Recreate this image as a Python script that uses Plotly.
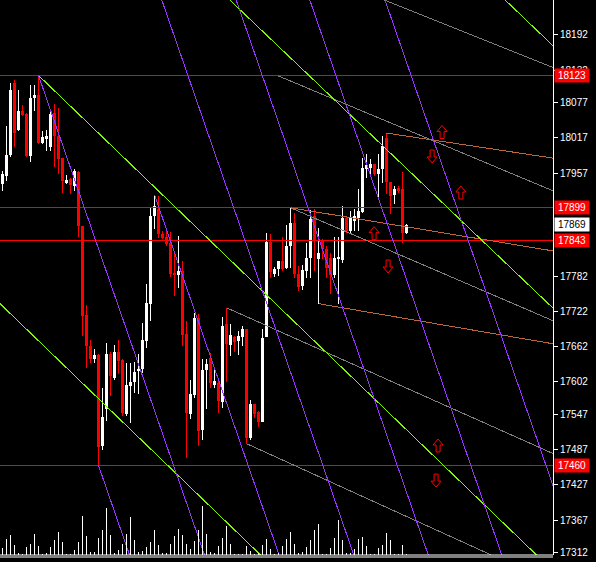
import plotly.graph_objects as go

# ---------------- data ----------------
idx = list(range(102))
opens = [17938,17952,17988,18110,18031,18063,18058,17986,18085,18090,
         18008,18015,18002,18059,18020,17983,17940,17947,17935,17959,
         17867,17716,17663,17641,17648,17493,17556,17650,17609,17653,
         17640,17548,17595,17602,17621,17624,17672,17735,17884,17896,
         17854,17849,17838,17787,17784,17791,17684,17548,17580,17711,
         17521,17623,17643,17597,17600,17568,17701,17665,17679,17672,
         17679,17692,17507,17565,17551,17534,17679,17840,17786,17794,
         17808,17796,17833,17872,17786,17765,17791,17813,17884,17811,
         17844,17828,17813,17784,17811,17810,17881,17859,17876,17881,
         17891,17964,17966,17973,17956,17964,18017,17942,17920,17932,
         17930,17855]
highs = [17961,18037,18110,18116,18099,18073,18059,18107,18107,18123,
         18029,18031,18061,18075,18068,17983,17954,17949,17964,17961,
         17867,17733,17674,17658,17650,17592,17668,17653,17665,17674,
         17641,17634,17634,17636,17650,17702,17769,17900,17920,17918,
         17859,17859,17857,17820,17850,17808,17706,17606,17719,17718,
         17641,17641,17651,17623,17609,17713,17728,17701,17680,17689,
         17697,17692,17572,17565,17553,17692,17855,17854,17798,17808,
         17849,17869,17898,17889,17799,17801,17838,17895,17896,17864,
         17845,17833,17821,17849,17849,17901,17884,17893,17896,17930,
         17983,17990,17981,17973,17990,18020,18025,17942,17935,17935,
         17959,17871]
lows = [17927,17944,17985,18002,18029,18054,17985,17976,18063,18007,
        18007,17995,17995,17968,17956,17923,17939,17922,17927,17849,
        17680,17626,17634,17634,17460,17487,17536,17578,17606,17616,
        17544,17544,17532,17583,17582,17617,17660,17706,17862,17847,
        17845,17833,17781,17748,17762,17663,17473,17539,17575,17493,
        17504,17556,17592,17592,17549,17558,17602,17646,17653,17648,
        17663,17497,17504,17541,17526,17534,17679,17779,17781,17782,
        17791,17794,17796,17779,17757,17759,17779,17779,17791,17735,
        17811,17779,17752,17779,17735,17804,17855,17855,17859,17859,
        17889,17949,17956,17952,17915,17940,17922,17888,17905,17923,
        17838,17854]
closes = [17955,17988,18099,18025,18063,18056,17986,18085,18090,18008,
          18019,18020,18058,18020,17981,17944,17946,17937,17961,17867,
          17714,17663,17641,17648,17492,17543,17650,17612,17653,17638,
          17549,17597,17602,17619,17624,17674,17736,17884,17901,17854,
          17847,17837,17786,17784,17791,17682,17549,17582,17711,17519,
          17623,17633,17600,17604,17570,17697,17667,17682,17670,17680,
          17692,17507,17565,17548,17534,17677,17840,17789,17794,17808,
          17794,17833,17872,17786,17764,17793,17813,17879,17844,17821,
          17828,17796,17784,17813,17813,17881,17859,17881,17884,17893,
          17966,17971,17973,17956,17964,18003,17942,17918,17930,17927,
          17855,17869]
volumes = [6.7,16,20,10,2.3,1,7.7,11,21,9,1,1.7,7.7,15,22.7,12.7,1,1,5,13,
           39,19,3,3,16.7,25,47,20,2,5,11,21,38,15,3.3,4,8,13,25,10,
           2,2,11,19,26,20,11,6,14,25,49,21,3,2,9,17,29,11,1,1,
           1,9,4,1,2,10,16,6,1,2,9,16,23,11,2,3,8,15,25,31,
           1,1,7,17,35,15,2,2,6,16,18,9,1,1,7,10,22,15,1,1,
           10,0.5]

levels = [18123, 17899, 17843, 17460]
current_price = 17869
tick_vals = [18252,18192,18132,18077,18017,17957,17782,
             17722,17662,17602,17547,17487,17427,17367,17312]

# drawn trend lines: x0, price0, x1, price1
purple_x0 = [9, 38, 24, 38, 57, 75, 94]
purple_p0 = [18123, 17920, 17460, 18287, 18279, 18287, 18283]
purple_x1 = [51, 70, 32, 90, 108, 127, 140]
purple_p1 = [17298, 17291, 17303, 17265, 17277, 17265, 17379]

green_x0 = [9, -2, 55, 124]
green_p0 = [18123, 17744, 18263, 18262]
green_x1 = [135, 66, 140, 140]
green_p1 = [17298, 17298, 17712, 18158]

grey_x0 = [69, 94, 72, 56, 61]
grey_p0 = [18122, 18255, 17898, 17728, 17497]
grey_x1 = [140, 140, 140, 140, 125]
grey_p1 = [17920, 18130, 17699, 17473, 17299]

brown_x0 = [96, 72, 79]
brown_p0 = [18025, 17898, 17735]
brown_x1 = [140, 140, 140]
brown_p1 = [17980, 17822, 17664]

arrow_x = [109.9, 107.4, 114.6, 92.9, 96.4, 108.9, 108.4]
arrow_p = [18026, 17986, 17923, 17854, 17799, 17493, 17435]
arrow_dir = ["up", "down", "up", "up", "down", "up", "down"]

# ---------------- figure ----------------
WHITE = "#FFFFFF"
RED = "#FF0000"
PURPLE = "#9933FF"
GREEN = "#7CFC00"
GREY = "#808080"
BROWN = "#C0643C"
FONT = "Liberation Sans Narrow, Liberation Sans, Arial"

colors = [WHITE if c >= o else RED for o, c in zip(opens, closes)]
body_base = [min(o, c) for o, c in zip(opens, closes)]
body_h = [max(abs(c - o), 1.7) for o, c in zip(opens, closes)]
wick_h = [h - l for h, l in zip(highs, lows)]

fig = go.Figure()

fig.add_trace(go.Bar(x=idx, y=volumes, width=0.25, yaxis="y2",
                     marker=dict(color=WHITE, line=dict(width=0)),
                     hoverinfo="skip"))
fig.add_trace(go.Bar(x=idx, y=wick_h, base=lows, width=0.25,
                     marker=dict(color=colors, line=dict(width=0)),
                     hoverinfo="skip"))
fig.add_trace(go.Bar(x=idx, y=body_h, base=body_base, width=0.75,
                     marker=dict(color=colors, line=dict(width=0)),
                     hoverinfo="skip"))

for lv in levels:
    fig.add_trace(go.Scatter(x=[-5, 145], y=[lv, lv], mode="lines",
                             line=dict(color=RED, width=1), hoverinfo="skip"))

def add_lines(x0s, p0s, x1s, p1s, color):
    for a, b, c, d in zip(x0s, p0s, x1s, p1s):
        fig.add_trace(go.Scatter(x=[a, c], y=[b, d], mode="lines",
                                 line=dict(color=color, width=1),
                                 hoverinfo="skip"))

add_lines(grey_x0, grey_p0, grey_x1, grey_p1, GREY)
add_lines(brown_x0, brown_p0, brown_x1, brown_p1, BROWN)
add_lines(green_x0, green_p0, green_x1, green_p1, GREEN)
add_lines(purple_x0, purple_p0, purple_x1, purple_p1, PURPLE)

up_path = "M0,7 L5,1 L2,1 L2,-6 L-2,-6 L-2,1 L-5,1 Z"
down_path = "M0,-7 L5,-1 L2,-1 L2,6 L-2,6 L-2,-1 L-5,-1 Z"
shapes = []
for ax, ap, ad in zip(arrow_x, arrow_p, arrow_dir):
    shapes.append(dict(type="path", xref="x", yref="y",
                       xsizemode="pixel", ysizemode="pixel",
                       xanchor=ax, yanchor=ap,
                       path=up_path if ad == "up" else down_path,
                       line=dict(color=RED, width=1), fillcolor="#000000",
                       layer="above"))
# bottom separator lines
for yy in [0, -2.0 / 555]:
    shapes.append(dict(type="line", xref="paper", yref="paper",
                       x0=0, x1=1, y0=yy, y1=yy,
                       line=dict(color=WHITE, width=1)))

annotations = []
label_x = 571.7 / 553
for lv in levels:
    annotations.append(dict(xref="paper", yref="y", x=label_x, y=lv,
                            text=str(lv), showarrow=False, xanchor="center",
                            yanchor="middle", bgcolor=RED, width=32, height=11,
                            font=dict(color=WHITE, size=10, family=FONT)))
annotations.append(dict(xref="paper", yref="y", x=label_x, y=current_price,
                        text=str(current_price), showarrow=False,
                        xanchor="center", yanchor="middle", bgcolor=WHITE,
                        width=32, height=11,
                        font=dict(color="#000000", size=10, family=FONT)))

fig.update_layout(
    width=596, height=562,
    margin=dict(l=0, r=43, t=0, b=7, autoexpand=False),
    paper_bgcolor="#000000", plot_bgcolor="#000000",
    showlegend=False, barmode="overlay", bargap=0,
    shapes=shapes, annotations=annotations,
    xaxis=dict(range=[-0.625, 137.625], visible=False, showgrid=False,
               zeroline=False),
    yaxis=dict(range=[17307.7, 18251.2], side="right", showgrid=False,
               zeroline=False, tickmode="array", tickvals=tick_vals,
               ticktext=[str(v) for v in tick_vals], automargin=False,
               ticks="outside", ticklen=4, tickcolor=WHITE,
               showline=True, linecolor=WHITE, linewidth=1,
               tickfont=dict(color=WHITE, size=10, family=FONT)),
    yaxis2=dict(range=[0, 555], overlaying="y", visible=False,
                showgrid=False, zeroline=False),
)

post = """
document.body.style.margin='0px';
document.body.style.overflow='hidden';
document.body.style.background='#000';
var st=document.createElement('style');
st.innerHTML='.scatterlayer path, .barlayer path {shape-rendering:crispEdges;}';
document.head.appendChild(st);
"""
fig.write_html("out.html", post_script=post, config={"displayModeBar": False})
